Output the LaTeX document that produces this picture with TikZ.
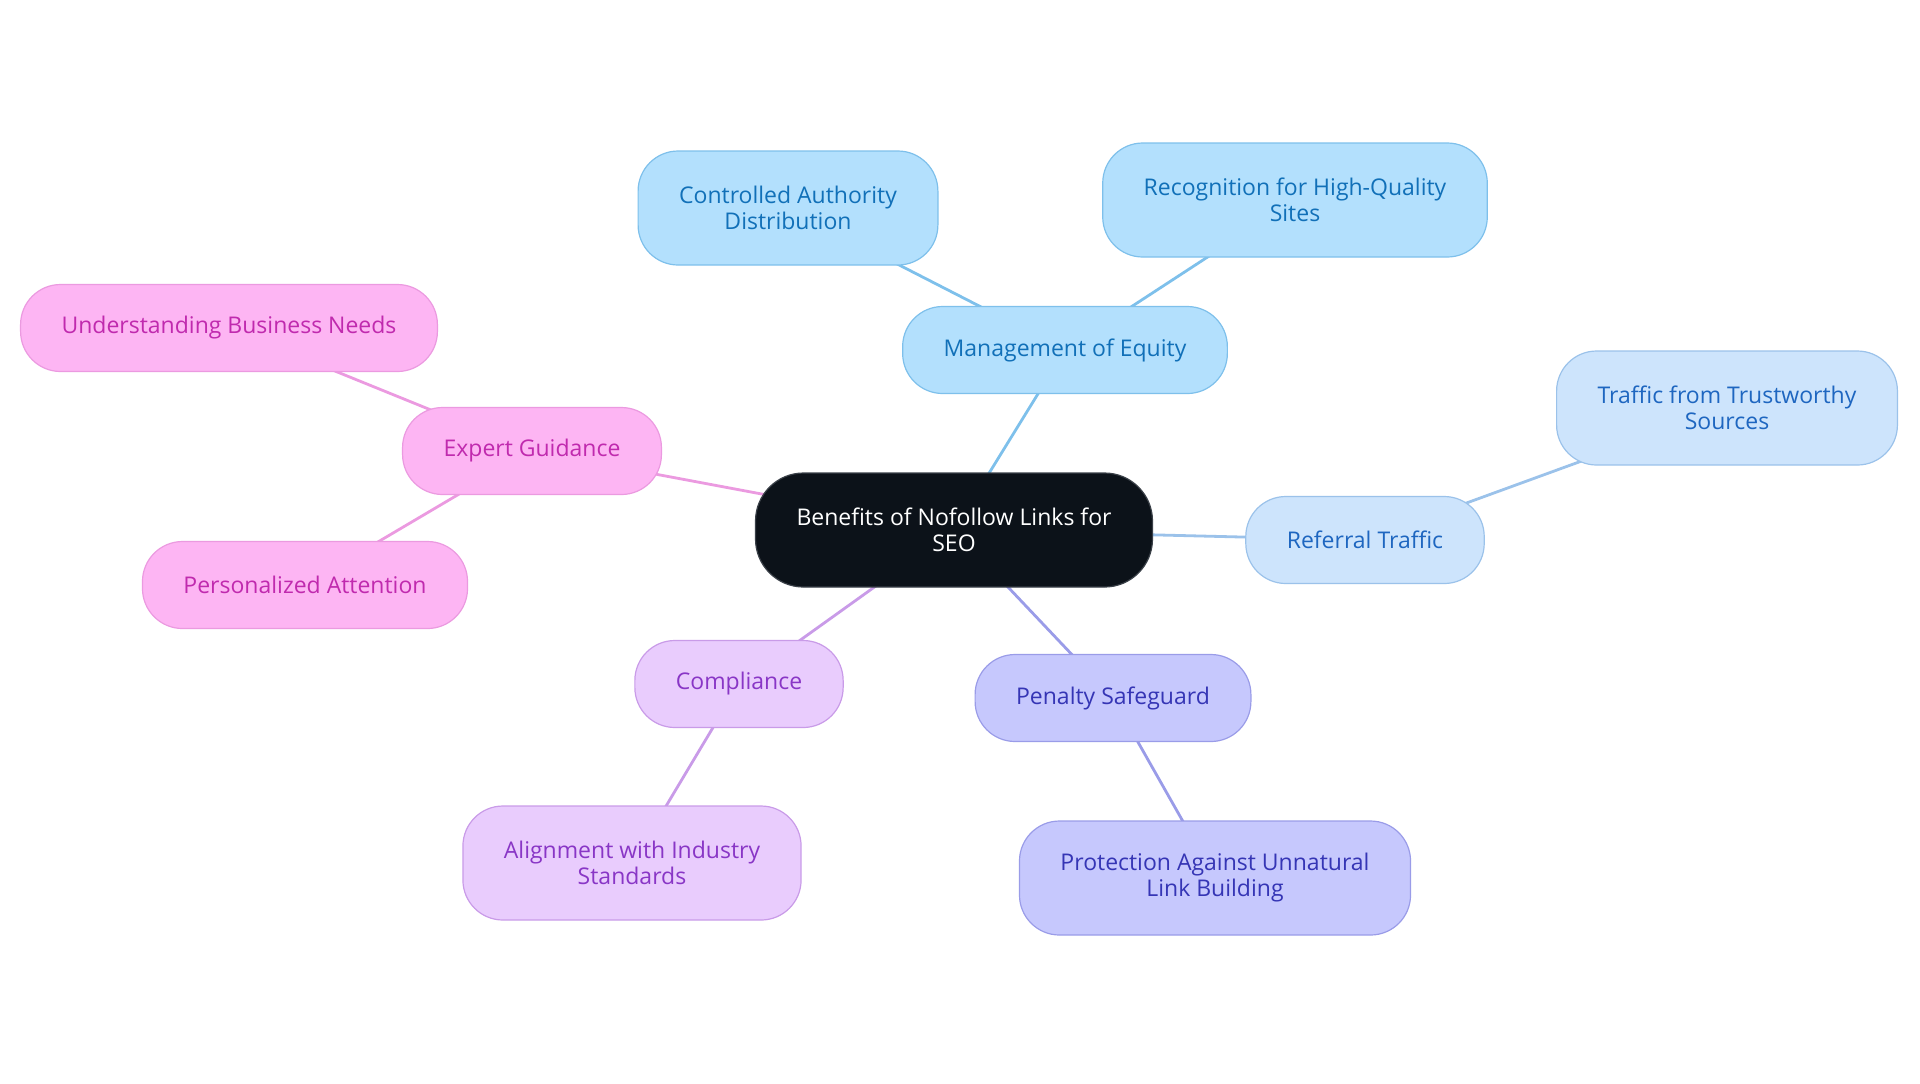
\documentclass[tikz,border=0pt]{standalone}
\usepackage{fontspec}
\setmainfont{Open Sans}
\usepackage{tikz}
\usetikzlibrary{backgrounds}
\definecolor{rootfill}{HTML}{0C1219}
\definecolor{rootdraw}{HTML}{3A4048}
\definecolor{eqfill}{HTML}{B3E0FD}
\definecolor{eqdraw}{HTML}{7EC0EB}
\definecolor{eqtext}{HTML}{1170B8}
\definecolor{reffill}{HTML}{CDE4FC}
\definecolor{refdraw}{HTML}{9BC2EA}
\definecolor{reftext}{HTML}{1E66C0}
\definecolor{penfill}{HTML}{C6C8FD}
\definecolor{pendraw}{HTML}{9A9CE8}
\definecolor{pentext}{HTML}{3535B5}
\definecolor{comfill}{HTML}{E9CCFD}
\definecolor{comdraw}{HTML}{C99BE8}
\definecolor{comtext}{HTML}{8936C6}
\definecolor{expfill}{HTML}{FDB5F3}
\definecolor{expdraw}{HTML}{EB9AE0}
\definecolor{exptext}{HTML}{C02AAE}
\tikzstyle{every node}=[font=\fontsize{11.5}{13}\selectfont]
\tikzset{
  bubble/.style={draw,line width=0.6pt,rounded corners=20pt,align=center,
    inner xsep=20.5pt,minimum height=43.5pt},
  tall/.style={minimum height=57pt},
  eqbox/.style={bubble,fill=eqfill,draw=eqdraw,text=eqtext},
  refbox/.style={bubble,fill=reffill,draw=refdraw,text=reftext},
  penbox/.style={bubble,fill=penfill,draw=pendraw,text=pentext},
  combox/.style={bubble,fill=comfill,draw=comdraw,text=comtext},
  expbox/.style={bubble,fill=expfill,draw=expdraw,text=exptext},
  link/.style={line width=1.4pt}
}
\begin{document}
\begin{tikzpicture}[x=0.5pt,y=-0.5pt]
\useasboundingbox (0,0) rectangle (1920,1083);
% root
\node[bubble,fill=rootfill,draw=rootdraw,text=white,minimum width=197pt,minimum height=57pt,rounded corners=24pt] (root) at (954,530) {Benefits of Nofollow Links for\\SEO};
% equity
\node[eqbox] (equity) at (1065,350) {Management of Equity};
\node[eqbox,tall] (authority) at (788,208) {Controlled Authority\\Distribution};
\node[eqbox,tall] (quality) at (1295,200) {Recognition for High-Quality\\Sites};
% referral
\node[refbox] (referral) at (1365,540) {Referral Traffic};
\node[refbox,tall] (trusted) at (1727,408) {Traffic from Trustworthy\\Sources};
% penalty
\node[penbox] (penalty) at (1113,698) {Penalty Safeguard};
\node[penbox,tall] (unnatural) at (1215,878) {Protection Against Unnatural\\Link Building};
% compliance
\node[combox] (compliance) at (739,684) {Compliance};
\node[combox,tall] (standards) at (632,863) {Alignment with Industry\\Standards};
% expert
\node[expbox] (expert) at (532,451) {Expert Guidance};
\node[expbox] (needs) at (229,328) {Understanding Business Needs};
\node[expbox] (attention) at (305,585) {Personalized Attention};
\begin{scope}[on background layer]
\draw[link,eqdraw] (root.center) -- (equity.center);
\draw[link,eqdraw] (equity.center) -- (authority.center);
\draw[link,eqdraw] (equity.center) -- (quality.center);
\draw[link,refdraw] (root.center) -- (referral.center);
\draw[link,refdraw] (referral.center) -- (trusted.center);
\draw[link,pendraw] (root.center) -- (penalty.center);
\draw[link,pendraw] (penalty.center) -- (unnatural.center);
\draw[link,comdraw] (root.center) -- (compliance.center);
\draw[link,comdraw] (compliance.center) -- (standards.center);
\draw[link,expdraw] (root.center) -- (expert.center);
\draw[link,expdraw] (expert.center) -- (needs.center);
\draw[link,expdraw] (expert.center) -- (attention.center);
\end{scope}
\end{tikzpicture}
\end{document}
